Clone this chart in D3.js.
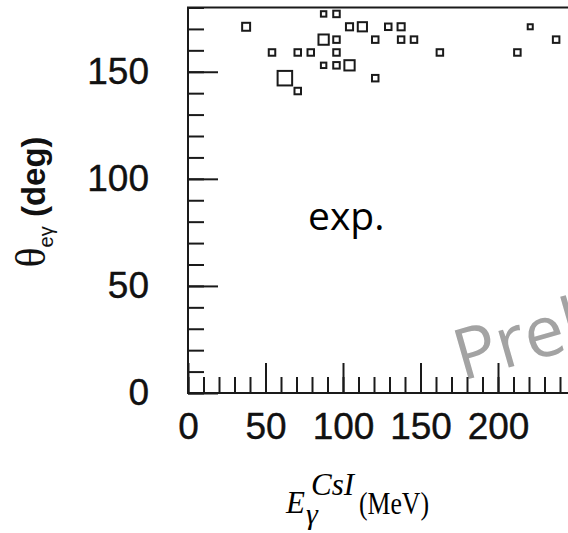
<!DOCTYPE html>
<html>
<head>
<meta charset="utf-8">
<script src="https://cdn.jsdelivr.net/npm/d3@7"></script>
<style>
  html, body { margin: 0; padding: 0; background: #fff; }
  svg { display: block; }
</style>
</head>
<body>
<svg id="chart" width="568" height="533"></svg>
<script>
// Binned events: photon energy in CsI (MeV), e-gamma opening angle (deg), bin weight
const binEnergy = [
  87.5, 95.8,
  37.5, 104.2, 112.5, 129.2, 137.5, 220.8,
  87.5, 95.8, 120.8, 137.5, 145.8, 237.5,
  54.2, 70.8, 79.2, 95.8, 162.5, 212.5,
  87.5, 95.8, 104.2,
  62.5, 120.8,
  70.8
];
const binAngle = [
  177, 177,
  171, 171, 171, 171, 171, 171,
  165, 165, 165, 165, 165, 165,
  159, 159, 159, 159, 159, 159,
  153, 153, 153,
  147, 147,
  141
];
const binWeight = [
  0.7, 1,
  1.5, 1.2, 2, 1, 1.2, 0.6,
  2.5, 1, 1, 1, 1, 1,
  1, 1, 1, 1, 1, 1,
  0.7, 1, 2.5,
  5, 1,
  1
];

const xDomain = [0, 250];
const yDomain = [0, 180];
const xMajorTicks = [0, 50, 100, 150, 200, 250];
const xTickLabels = ["0", "50", "100", "150", "200"];
const yMajorTicks = [0, 50, 100, 150];
const yTickLabels = ["0", "50", "100", "150"];
const xMinorTicks = d3.range(0, 251, 10);
const yMinorTicks = d3.range(0, 181, 10);

const svg = d3.select("#chart");
const ink = "#1a1a1a";

const x = d3.scaleLinear().domain(xDomain).range([188, 575.5]);
const y = d3.scaleLinear().domain(yDomain).range([393, 7.5]);
const side = d3.scaleSqrt().domain([0, 1]).range([0, 6.5]).clamp(false);

// Watermark behind the axes
svg.append("text")
  .attr("transform", "translate(462,381) rotate(-16)")
  .attr("font-family", "'Open Sans', sans-serif")
  .attr("font-size", 71)
  .attr("fill", "#a3a3a3")
  .text("Preliminary");

// Frame
svg.append("rect")
  .attr("x", x(xDomain[0])).attr("y", y(yDomain[1]))
  .attr("width", x(xDomain[1]) - x(xDomain[0]))
  .attr("height", y(yDomain[0]) - y(yDomain[1]))
  .attr("fill", "none").attr("stroke", ink).attr("stroke-width", 2);

function styleAxis(g) {
  g.select(".domain").remove();
  g.selectAll(".tick line").attr("stroke", ink).attr("stroke-width", 2);
  g.selectAll(".tick text")
    .attr("font-family", "'Liberation Sans', Arial, sans-serif")
    .attr("font-size", 37)
    .attr("fill", "#111")
    .attr("stroke", "#111")
    .attr("stroke-width", 0.4);
}

// X axis: minor then major ticks, pointing into the plot
svg.append("g").attr("transform", `translate(0,${y(0)})`)
  .call(d3.axisBottom(x).tickValues(xMinorTicks).tickSizeInner(-16).tickSizeOuter(0).tickFormat(""))
  .call(styleAxis);
svg.append("g").attr("transform", `translate(0,${y(0)})`)
  .call(d3.axisBottom(x).tickValues(xMajorTicks).tickSizeInner(-30).tickSizeOuter(0).tickPadding(20)
    .tickFormat((d, i) => xTickLabels[i] || ""))
  .call(styleAxis);

// Y axis
svg.append("g").attr("transform", `translate(${x(0)},0)`)
  .call(d3.axisLeft(y).tickValues(yMinorTicks).tickSizeInner(-16).tickSizeOuter(0).tickFormat(""))
  .call(styleAxis);
svg.append("g").attr("transform", `translate(${x(0)},0)`)
  .call(d3.axisLeft(y).tickValues(yMajorTicks).tickSizeInner(-30).tickSizeOuter(0).tickPadding(39)
    .tickFormat((d, i) => yTickLabels[i]))
  .call(styleAxis);

// Box markers, side growing with bin weight
const bins = binEnergy.map((e, i) => ({ e, a: binAngle[i], w: binWeight[i] }));
svg.append("g").selectAll("rect").data(bins).join("rect")
  .attr("x", d => x(d.e) - side(d.w) / 2)
  .attr("y", d => y(d.a) - side(d.w) / 2)
  .attr("width", d => side(d.w))
  .attr("height", d => side(d.w))
  .attr("fill", "none")
  .attr("stroke", ink)
  .attr("stroke-width", 2);

// In-plot label
svg.append("text")
  .attr("x", 308).attr("y", 230)
  .attr("font-family", "'Open Sans', sans-serif")
  .attr("font-size", 39)
  .attr("fill", "#000")
  .text("exp.");

// Y axis title
const yTitle = svg.append("text")
  .attr("transform", "translate(45,202) rotate(-90)")
  .attr("text-anchor", "middle")
  .attr("fill", "#111");
yTitle.append("tspan")
  .attr("font-family", "'Liberation Serif', serif")
  .attr("font-size", 42)
  .text("θ");
yTitle.append("tspan")
  .attr("font-family", "'Liberation Sans', Arial, sans-serif")
  .attr("font-size", 20)
  .attr("dy", 8)
  .text("eγ");
yTitle.append("tspan")
  .attr("font-family", "'Liberation Sans', Arial, sans-serif")
  .attr("font-weight", "bold")
  .attr("font-size", 33)
  .attr("dy", -8)
  .text(" (deg)");

// X axis title
const serif = "'Liberation Serif', 'DejaVu Serif', serif";
svg.append("text").attr("x", 286).attr("y", 513)
  .attr("font-family", serif).attr("font-style", "italic").attr("font-size", 31)
  .attr("fill", "#000").text("E");
svg.append("text").attr("x", 311).attr("y", 495)
  .attr("font-family", serif).attr("font-style", "italic").attr("font-size", 31)
  .attr("fill", "#000").text("CsI");
svg.append("text").attr("x", 306).attr("y", 524)
  .attr("font-family", serif).attr("font-style", "italic").attr("font-size", 30)
  .attr("fill", "#000").text("γ");
svg.append("text").attr("x", 359).attr("y", 514)
  .attr("font-family", serif).attr("font-size", 31)
  .attr("textLength", 70).attr("lengthAdjust", "spacingAndGlyphs")
  .attr("fill", "#000").text("(MeV)");
</script>
</body>
</html>
